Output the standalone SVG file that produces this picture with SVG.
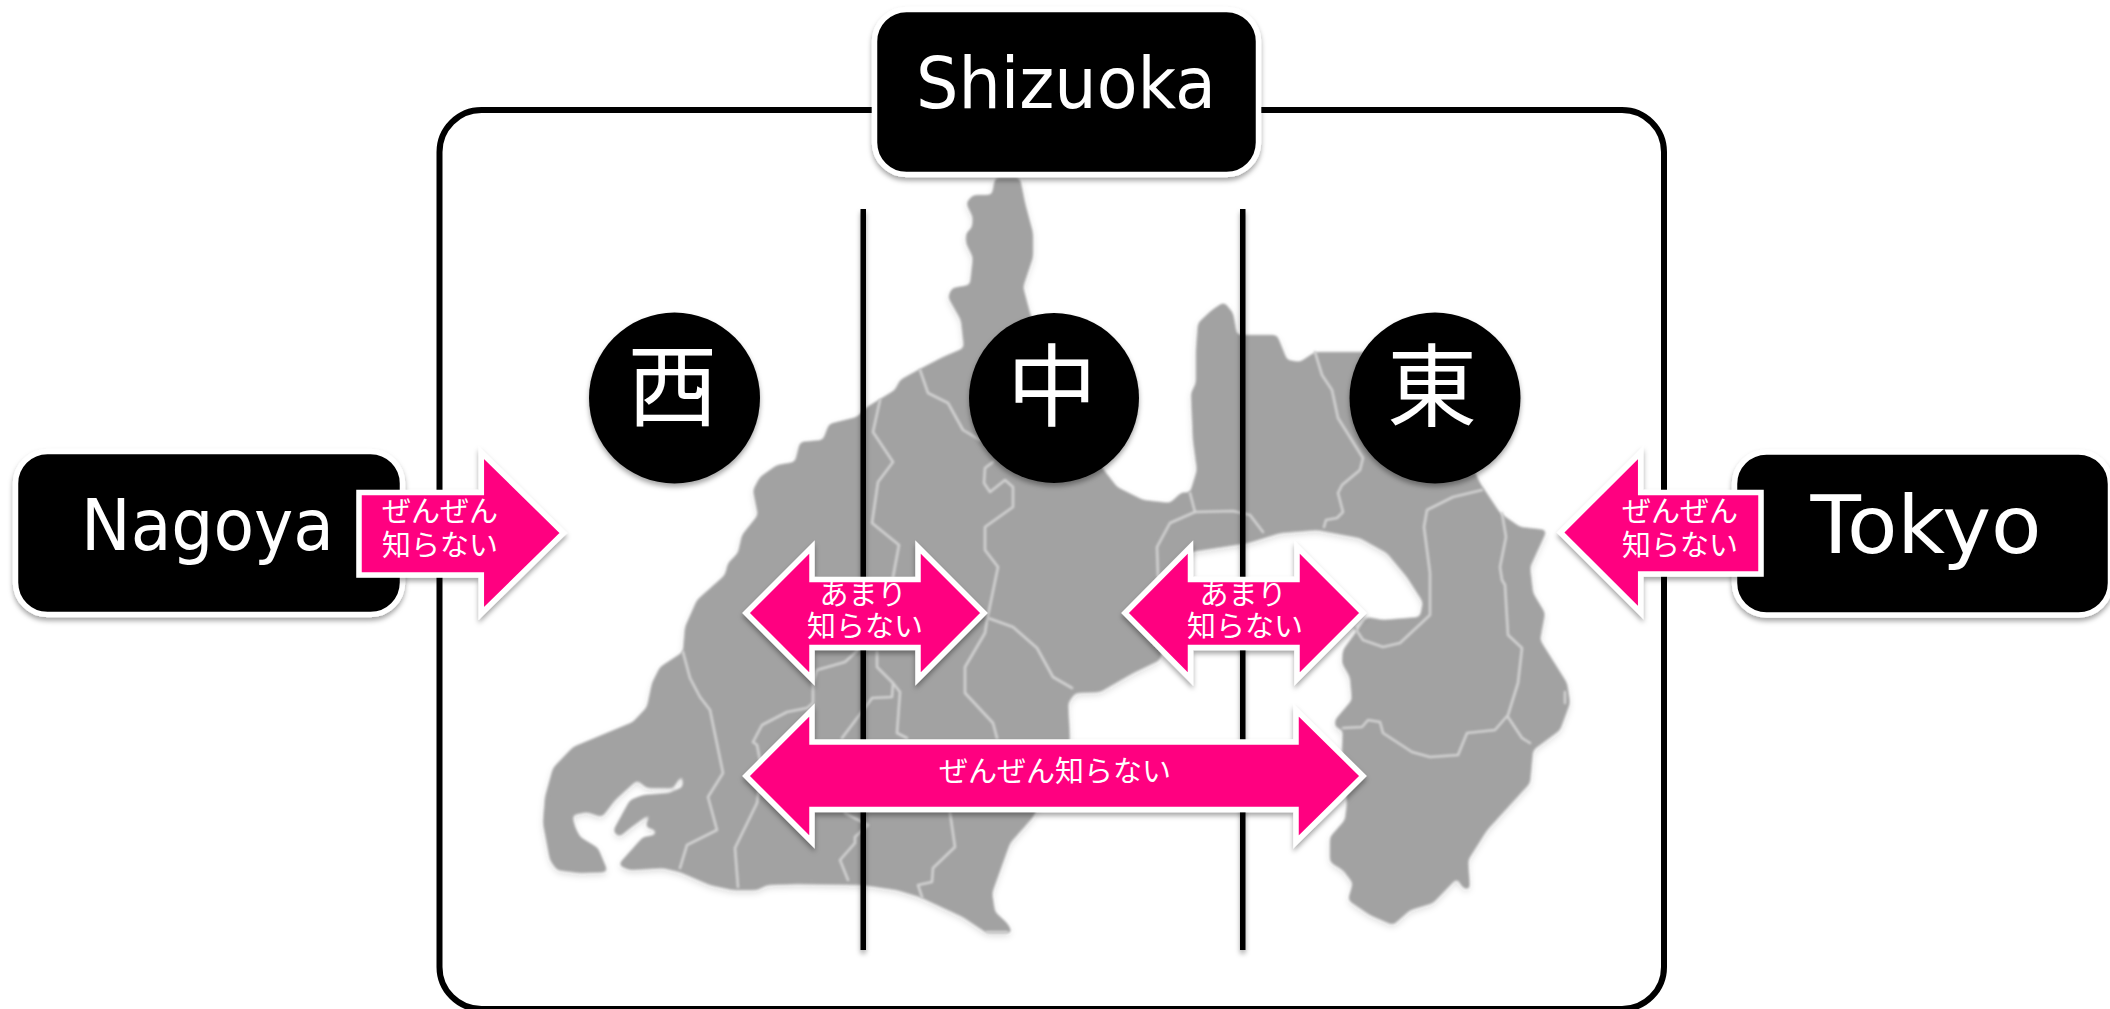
<svg xmlns="http://www.w3.org/2000/svg" width="2110" height="1009" viewBox="0 0 2110 1009">
<defs>
<style>
.lat{font-family:"DejaVu Sans","Liberation Sans",sans-serif;fill:#fff;text-anchor:middle}
.cjk{font-family:"Noto Sans CJK JP","Noto Sans",sans-serif;fill:#fff;text-anchor:middle}
.sm{font-size:29px;font-weight:400}
.kanji{font-size:90px;font-weight:400}
.box{fill:#000;stroke:#fff;stroke-width:5.5;filter:url(#sh)}
.badge{fill:#000;filter:url(#sh)}
.arrow{fill:#ff0080;stroke:#fff;stroke-width:5.5;stroke-linejoin:miter;filter:url(#sh)}
.vline{fill:#000;filter:url(#sh)}
.border{fill:#a2a2a2}
.road{fill:none;stroke:#d2d2d2;stroke-width:2.6;stroke-linejoin:round;stroke-linecap:round}
</style>
<filter id="sh" filterUnits="userSpaceOnUse" x="0" y="0" width="2110" height="1009">
<feDropShadow dx="0" dy="3.5" stdDeviation="2.5" flood-color="#000" flood-opacity="0.35"/>
</filter>
<filter id="soft" filterUnits="userSpaceOnUse" x="0" y="0" width="2110" height="1009">
<feGaussianBlur stdDeviation="2.6"/>
<feComponentTransfer><feFuncA type="linear" slope="4" intercept="-1.5"/></feComponentTransfer>
<feGaussianBlur stdDeviation="1.3" result="b"/>
<feDropShadow in="b" dx="0" dy="3" stdDeviation="3" flood-color="#000" flood-opacity="0.15"/>
</filter>
<filter id="rb" filterUnits="userSpaceOnUse" x="0" y="0" width="2110" height="1009">
<feGaussianBlur stdDeviation="0.8"/>
</filter>
</defs>
<rect width="2110" height="1009" fill="#fff"/>
<rect id="frame" x="439.5" y="110" width="1224.5" height="899" rx="42" fill="#fff" stroke="#000" stroke-width="6"/>
<g id="map">
<path class="border" filter="url(#soft)" d="M995,178 1020,178 1025,203 1033,233 1033,257 1023,287 1030,313 1040,340 1070,400 1100,465 1117,487 1143,500 1170,503 1182,492 1190,493 1197,470 1193,440 1191,393 1196,383 1196,350 1198,323 1212,310 1224,302 1233,313 1237,335 1277,335 1287,360 1300,362 1315,352 1363,352 1400,352 1450,420 1480,483 1500,513 1520,527 1547,530 1530,567 1533,593 1545,613 1540,640 1567,683 1570,703 1560,730 1533,750 1530,783 1487,830 1468,860 1470,890 1463,888 1457,878 1433,903 1410,910 1393,925 1370,915 1348,900 1353,883 1343,870 1330,862 1330,837 1345,820 1347,803 1342,750 1343,730 1335,727 1335,720 1352,700 1350,677 1342,663 1343,650 1367,617 1383,620 1420,617 1423,602 1407,577 1387,553 1360,538 1317,530 1280,533 1248,543 1190,552 1175,600 1160,660 1133,673 1100,692 1075,693 1068,703 1070,740 1033,817 1010,843 992,893 995,912 1007,923 1013,933 987,933 963,917 920,897 897,890 863,885 797,884 767,885 757,890 733,890 710,885 680,872 663,868 630,870 618,865 643,837 656,835 656,830 645,827 652,812 630,828 619,837 613,831 630,800 643,795 670,793 683,787 683,773 673,788 647,788 637,780 615,800 602,817 587,812 572,815 575,827 580,837 598,848 608,872 580,873 557,870 550,860 543,823 545,797 553,768 573,747 597,737 633,722 647,707 652,683 660,667 683,652 685,627 697,600 725,575 728,563 738,553 742,535 758,515 753,490 760,477 777,465 795,462 800,442 823,440 829,424 857,417 867,407 895,390 900,380 918,370 943,357 964,348 961,320 948,297 952,288 970,285 973,257 966,243 966,233 972,228 973,217 966,203 973,195 992,195Z"/>
<g filter="url(#rb)">
<path class="road" d="M683,652 690,678 700,697 710,710 723,773 708,797 717,830 687,845 680,868"/>
<path class="road" d="M858,650 845,662 817,670 813,683 813,703 807,708 787,712 762,725 753,742 757,745 762,770 757,803 735,848 738,887"/>
<path class="road" d="M880,400 873,432 893,462 878,482 872,523 899,545 893,577"/>
<path class="road" d="M877,652 877,667 893,683 892,697 872,698 867,705 842,738"/>
<path class="road" d="M893,683 900,692 897,733 907,738"/>
<path class="road" d="M845,813 868,825 855,837 855,843 840,860 848,880"/>
<path class="road" d="M950,813 955,847 933,868 932,882 918,885 922,897"/>
<path class="road" d="M993,462 985,468 984,483 990,492 1005,480 1013,487 1013,507 985,527 985,550 998,567 987,620 985,633 965,667 965,693 993,723 997,738"/>
<path class="road" d="M920,370 928,393 948,403 963,430 980,440"/>
<path class="road" d="M988,618 1013,627 1037,648 1053,677 1072,688"/>
<path class="road" d="M1190,493 1195,512 1233,511 1250,515 1263,532"/>
<path class="road" d="M1195,512 1170,523 1157,547 1158,577"/>
<path class="road" d="M1315,352 1322,375 1332,390 1338,418 1363,458 1360,470 1342,485 1338,493 1343,512 1337,518 1326,520 1324,527"/>
<path class="road" d="M1482,490 1453,497 1427,510 1424,527 1430,573 1430,615 1400,643 1383,647 1363,640 1355,628"/>
<path class="road" d="M1502,513 1506,537 1500,567 1502,580 1505,585 1508,635 1522,648 1518,683 1508,715 1495,730 1467,733 1458,755 1430,757 1412,752 1383,733 1380,722 1368,720 1362,727 1343,728"/>
<path class="road" d="M1508,717 1522,738 1530,743"/>
<path class="road" d="M1565,692 1565,703"/>
<path class="road" d="M987,932 1007,932"/>
</g>
</g>
<g id="dividers">
<rect class="vline" x="860.5" y="209" width="5.5" height="741"/>
<rect class="vline" x="1240" y="209" width="5.5" height="741"/>
</g>
<g id="node-west"><circle class="badge" cx="674.5" cy="398" r="85.5"/><text class="cjk kanji" x="672.5" y="419">西</text></g>
<g id="node-center"><circle class="badge" cx="1054" cy="398" r="85"/><text class="cjk kanji" x="1052" y="419">中</text></g>
<g id="node-east"><circle class="badge" cx="1435" cy="398" r="85.5"/><text class="cjk kanji" x="1432" y="419">東</text></g>
<g id="node-shizuoka"><rect class="box" x="874.5" y="9.5" width="384" height="165" rx="32"/><text class="lat" x="1066" y="108" font-size="72" textLength="300" lengthAdjust="spacingAndGlyphs">Shizuoka</text></g>
<g id="node-nagoya"><rect class="box" x="15.5" y="451.5" width="387" height="163" rx="32"/><text class="lat" x="207.5" y="550" font-size="72" textLength="253" lengthAdjust="spacingAndGlyphs">Nagoya</text></g>
<g id="node-tokyo"><rect class="box" x="1734.5" y="452" width="376" height="163" rx="32"/><text class="lat" x="1926" y="553" font-size="80" textLength="231" lengthAdjust="spacingAndGlyphs">Tokyo</text></g>
<g id="connectors">
<g id="arrow-nagoya"><path class="arrow" d="M359,492.5H481.3V452.5L563.4,533 481.3,613.5V575H359Z"/><text class="cjk sm" x="440" y="521.5">ぜんぜん</text><text class="cjk sm" x="440" y="556">知らない</text></g>
<g id="arrow-tokyo"><path class="arrow" d="M1761,492.5H1640.7V452.5L1560.5,532.5 1640.7,612.5V574H1761Z"/><text class="cjk sm" x="1680" y="521.5">ぜんぜん</text><text class="cjk sm" x="1680" y="556">知らない</text></g>
<g id="arrow-wide"><path class="arrow" d="M746,776 812,710V742H1296V710L1363,776 1296,842V809.5H812V842Z"/><text class="cjk sm" x="1055" y="781.5">ぜんぜん知らない</text></g>
<g id="arrow-west-center"><path class="arrow" d="M746,613 812,547V579.5H918V547L984,613 918,679V647.5H812V679Z"/><text class="cjk sm" x="863" y="605">あまり</text><text class="cjk sm" x="865" y="636.5">知らない</text></g>
<g id="arrow-center-east"><path class="arrow" d="M1125,613 1190.5,547V579.5H1297V547L1363,613 1297,679V647.5H1190.5V679Z"/><text class="cjk sm" x="1243" y="605">あまり</text><text class="cjk sm" x="1245" y="636.5">知らない</text></g>
</g>
</svg>
